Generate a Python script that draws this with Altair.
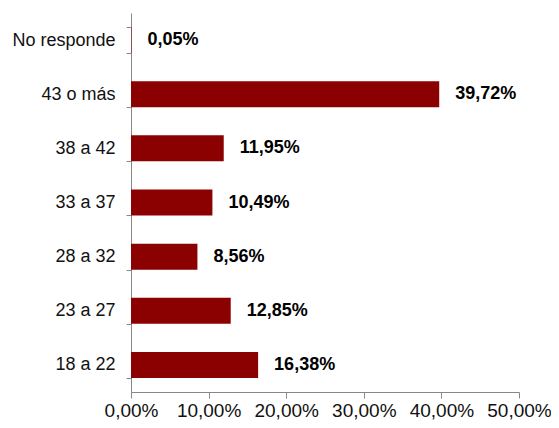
import altair as alt
import pandas as pd

categories = ["No responde", "43 o más", "38 a 42", "33 a 37", "28 a 32", "23 a 27", "18 a 22"]
values = [0.05, 39.72, 11.95, 10.49, 8.56, 12.85, 16.38]
x_ticks = [0, 10, 20, 30, 40, 50]

df = pd.DataFrame({"cat": categories, "val": values})
df["label"] = [f"{v:.2f}".replace(".", ",") + "%" for v in values]

FONT = "Liberation Sans"

x_enc = alt.X(
    "val:Q",
    scale=alt.Scale(domain=[0, 50], nice=False),
    axis=alt.Axis(
        values=x_ticks, title=None, grid=False, labelFontSize=19, labelFont=FONT,
        labelColor="#111111", domainColor="#888888", tickColor="#888888",
        tickSize=6, labelPadding=3, labelFlush=False,
        labelExpr="format(datum.value, 'd') + ',00%'",
    ),
)
y_enc = alt.Y(
    "cat:N",
    sort=categories,
    scale=alt.Scale(paddingInner=0.52, paddingOuter=0.26),
    axis=alt.Axis(
        title=None, grid=False, labelFontSize=18, labelFont=FONT, labelColor="#111111",
        domainColor="#888888", tickColor="#888888", tickSize=5, tickBand="extent",
        labelPadding=11,
    ),
)

bars = alt.Chart(df).mark_bar(color="#8B0000").encode(x=x_enc, y=y_enc)
text = alt.Chart(df).mark_text(
    align="left", baseline="middle", dx=16, fontSize=18, fontWeight="bold", font=FONT, color="#000000"
).encode(x="val:Q", y=alt.Y("cat:N", sort=categories), text="label:N")

chart = (
    (bars + text)
    .properties(
        width=388, height=379,
        autosize=alt.AutoSizeParams(type="none"),
        padding={"left": 123, "top": 5, "right": 32, "bottom": 28},
    )
    .configure(background="white", view=alt.ViewConfig(stroke="transparent", strokeWidth=0))
)

chart.save("out.html", embed_options={"renderer": "svg", "actions": False})
